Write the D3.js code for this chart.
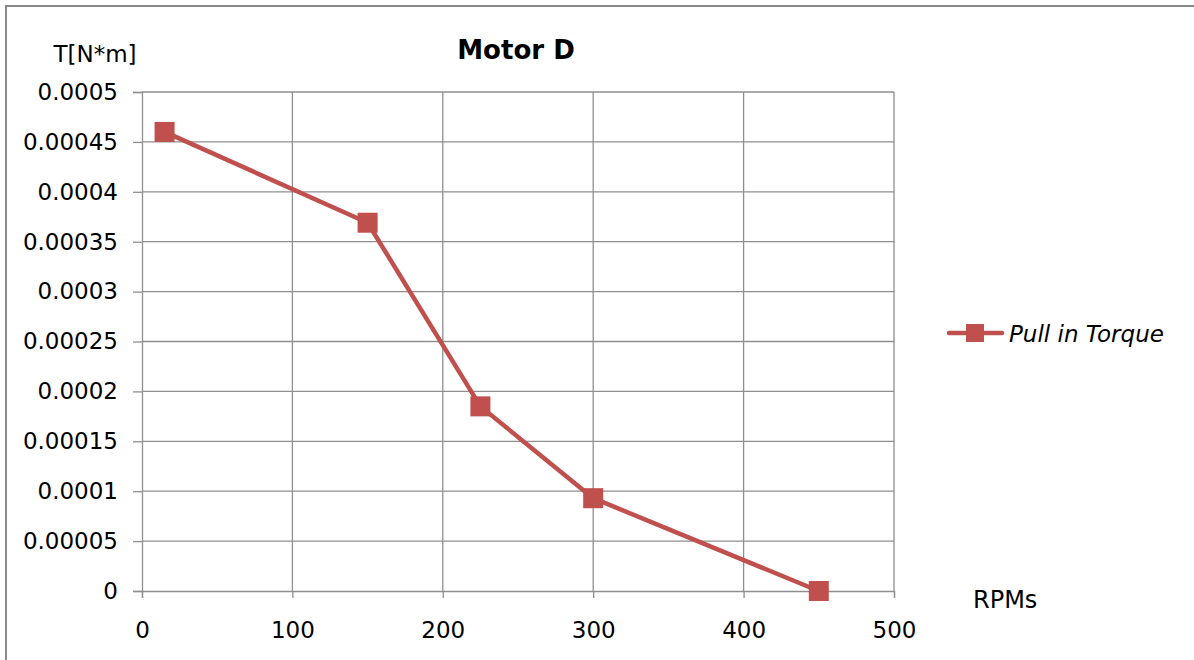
<!DOCTYPE html>
<html><head><meta charset="utf-8">
<script src="https://cdn.jsdelivr.net/npm/d3@7"></script>
<style>
html,body{margin:0;padding:0;background:#fff;}
svg{display:block;}
text{font-family:"DejaVu Sans",sans-serif;fill:#000;}
</style></head>
<body>
<script>
const rpm = [15, 150, 225, 300, 450];
const torque = [0.00046, 0.000369, 0.000185, 0.000093, 0];
const xTicks = [0, 100, 200, 300, 400, 500];
const yTicks = [0, 0.00005, 0.0001, 0.00015, 0.0002, 0.00025, 0.0003, 0.00035, 0.0004, 0.00045, 0.0005];
const yTickLabels = ["0","0.00005","0.0001","0.00015","0.0002","0.00025","0.0003","0.00035","0.0004","0.00045","0.0005"];
const seriesName = "Pull in Torque";
const title = "Motor D";
const yTitle = "T[N*m]";
const xTitle = "RPMs";

const W = 1194, H = 660;
const color = "#C0504D";
const gridColor = "#8f8f8f";
const svg = d3.select("body").append("svg").attr("width", W).attr("height", H);

// outer border
svg.append("path").attr("d", `M6,${H} L6,6 L${W},6`).attr("fill","none").attr("stroke","#888").attr("stroke-width",2);

const x = d3.scaleLinear().domain([0,500]).range([142, 894]);
const y = d3.scaleLinear().domain([0,0.0005]).range([591, 92]);

// grid
svg.append("g").selectAll("line").data(xTicks.filter(v => v > 0)).join("line")
  .attr("x1", d => x(d)).attr("x2", d => x(d)).attr("y1", y(0)).attr("y2", y(0.0005))
  .attr("stroke", gridColor).attr("stroke-width", 1.3);
svg.append("g").selectAll("line").data(yTicks.filter(v => v > 0)).join("line")
  .attr("x1", x(0)).attr("x2", x(500)).attr("y1", d => y(d)).attr("y2", d => y(d))
  .attr("stroke", gridColor).attr("stroke-width", 1.3);

// axes
const yAxis = d3.axisLeft(y).tickValues(yTicks).tickSize(9).tickPadding(15)
  .tickFormat((d,i) => yTickLabels[i]);
const gy = svg.append("g").attr("transform", `translate(${x(0)},0)`).call(yAxis);
const xAxis = d3.axisBottom(x).tickValues(xTicks).tickSize(7).tickPadding(24);
const gx = svg.append("g").attr("transform", `translate(0,${y(0)})`).call(xAxis);
[gy, gx].forEach(g => {
  g.select(".domain").attr("stroke", gridColor).attr("stroke-width", 1.3);
  g.selectAll(".tick line").attr("stroke", gridColor).attr("stroke-width", 1.3);
  g.selectAll(".tick text").attr("font-family", '"DejaVu Sans",sans-serif').attr("font-size", 23).attr("fill", "#000");
});
gx.selectAll(".tick text").attr("dy", "0.71em");

// line
const data = rpm.map((r,i) => ({r, t: torque[i]}));
svg.append("path").datum(data)
  .attr("d", d3.line().x(d => x(d.r)).y(d => y(d.t)))
  .attr("fill","none").attr("stroke", color).attr("stroke-width", 4.5).attr("stroke-linejoin","round");
const ms = 20;
svg.append("g").selectAll("rect").data(data).join("rect")
  .attr("x", d => x(d.r) - ms/2).attr("y", d => y(d.t) - ms/2)
  .attr("width", ms).attr("height", ms).attr("fill", color);

// titles
svg.append("text").attr("x", 516).attr("y", 59).attr("text-anchor","middle")
  .attr("font-size", 26).attr("font-weight","bold").text(title);
svg.append("text").attr("x", 95).attr("y", 62).attr("text-anchor","middle")
  .attr("font-size", 23).text(yTitle);
svg.append("text").attr("x", 973).attr("y", 608).attr("font-size", 24).text(xTitle);

// legend
const lg = svg.append("g");
lg.append("line").attr("x1", 949).attr("x2", 1002).attr("y1", 333).attr("y2", 333)
  .attr("stroke", color).attr("stroke-width", 4.5).attr("stroke-linecap","round");
lg.append("rect").attr("x", 966).attr("y", 324).attr("width", 18).attr("height", 18).attr("fill", color);
lg.append("text").attr("x", 1009).attr("y", 342).attr("font-size", 23).attr("font-style","italic").text(seriesName);
</script>
</body></html>
